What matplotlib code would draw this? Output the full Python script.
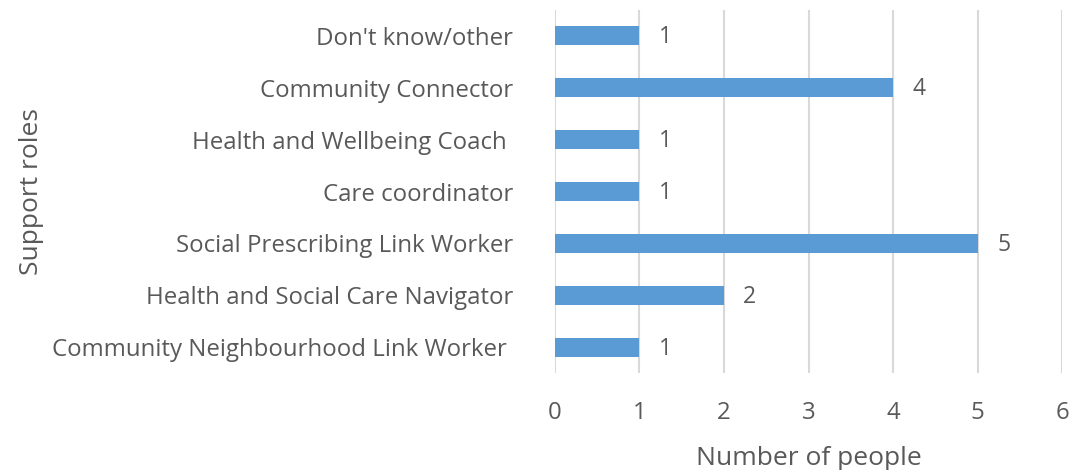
import numpy as np
import matplotlib.pyplot as plt

plt.rcParams['font.family'] = ['Open Sans', 'DejaVu Sans']

roles = ["Community Neighbourhood Link Worker ",
         "Health and Social Care Navigator",
         "Social Prescribing Link Worker",
         "Care coordinator",
         "Health and Wellbeing Coach ",
         "Community Connector",
         "Don't know/other"]
counts = [1, 2, 5, 1, 1, 4, 1]

txt = "#595959"
fig = plt.figure(figsize=(10.73, 4.70), dpi=100)
ax = fig.add_axes([0.517, 0.206, 0.473, 0.773])

ypos = np.arange(len(roles))
ax.barh(ypos, counts, height=0.37, color="#5B9BD5", zorder=3)
for y, v in zip(ypos, counts):
    ax.annotate(str(v), (v, y), xytext=(14, -1), textcoords="offset points",
                va="center", ha="left", fontsize=16.5, color=txt)

ax.set_xlim(0, 6)
ax.set_ylim(-0.5, len(roles) - 0.5)
ax.set_xticks(range(0, 7))
ax.set_yticks(ypos)
ax.set_yticklabels(roles)
ax.xaxis.grid(True, color="#D9D9D9", linewidth=1.5, zorder=0)
for s in ax.spines.values():
    s.set_visible(False)
ax.tick_params(axis="both", length=0, labelsize=17.3, labelcolor=txt)
ax.tick_params(axis="x", pad=20)
ax.tick_params(axis="y", pad=30)
ax.set_xlabel("Number of people", fontsize=19, color=txt, labelpad=15)
ax.set_ylabel("Support roles", fontsize=19, color=txt, labelpad=6)

plt.savefig("out.png", dpi=100)
